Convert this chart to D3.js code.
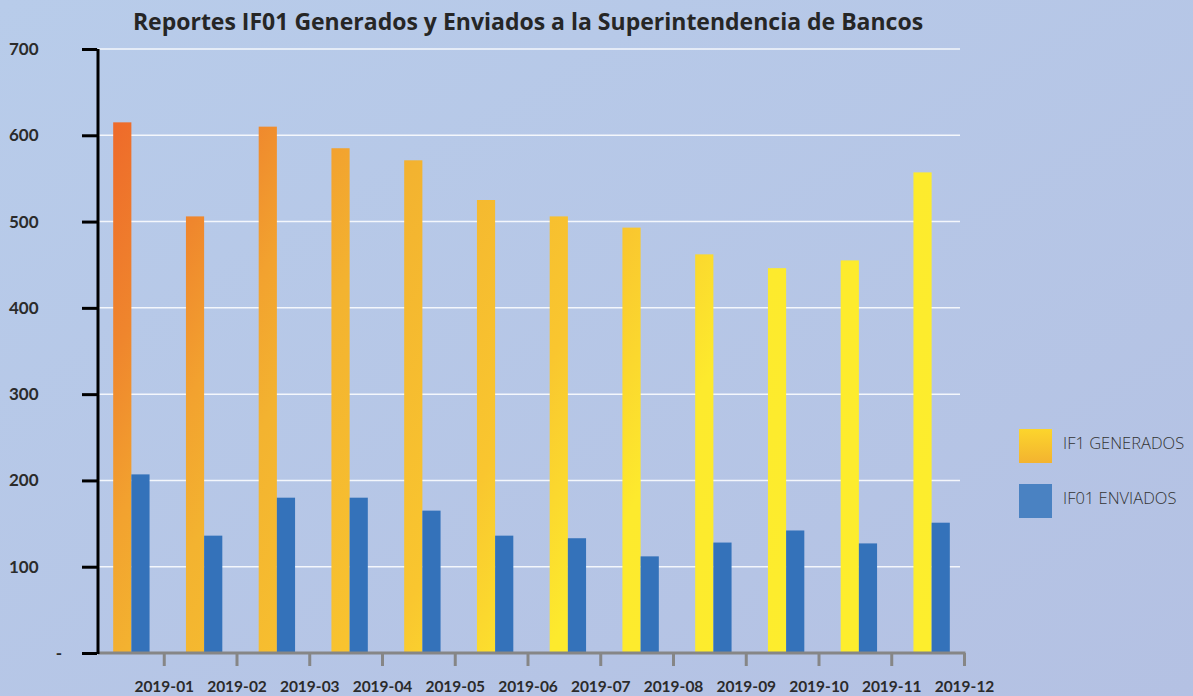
<!DOCTYPE html>
<html>
<head>
<meta charset="utf-8">
<script src="https://cdn.jsdelivr.net/npm/d3@7"></script>
<style>
  body { margin: 0; overflow: hidden; }
  #chart { width: 1193px; height: 696px; }
  .ylab, .xlab { font-family: Lato, "Open Sans", sans-serif; font-weight: 700; fill: #2b2b2b; }
</style>
</head>
<body>
<div id="chart"></div>
<script>
document.addEventListener('DOMContentLoaded', function() {

    const months = ["2019-01", "2019-02", "2019-03", "2019-04", "2019-05", "2019-06",
                    "2019-07", "2019-08", "2019-09", "2019-10", "2019-11", "2019-12"];
    const generados = [615, 506, 610, 585, 571, 525, 506, 493, 462, 446, 455, 557];
    const enviados = [207, 136, 180, 180, 165, 136, 133, 112, 128, 142, 127, 151];
    const seriesNames = ["IF1 GENERADOS", "IF01 ENVIADOS"];
    const yTicks = [0, 100, 200, 300, 400, 500, 600, 700];

    const chartData = months.map((m, i) => ({ month: m, values: [generados[i], enviados[i]] }));

    const W = 1193, H = 696;
    const svg = d3.select("#chart").append("svg")
        .attr("width", W)
        .attr("height", H);

    const defs = svg.append("defs");

    // page background
    const bg = defs.append("linearGradient").attr("id", "bg")
        .attr("x1", "0%").attr("y1", "0%").attr("x2", "100%").attr("y2", "100%");
    bg.append("stop").attr("offset", "0%").attr("stop-color", "#B8CCEA");
    bg.append("stop").attr("offset", "100%").attr("stop-color", "#B4C1E3");
    svg.append("rect").attr("width", W).attr("height", H).attr("fill", "url(#bg)");

    // orange -> yellow fill shared by all bars (page coordinates)
    const gOrange = defs.append("linearGradient").attr("id", "orange")
        .attr("gradientUnits", "userSpaceOnUse")
        .attr("x1", 110).attr("y1", 110).attr("x2", 950).attr("y2", 600);
    [[0, "#EE682A"], [0.13, "#EF862D"], [0.22, "#F2A22F"], [0.3, "#F3B330"],
     [0.52, "#F9C62F"], [0.67, "#FDEA2D"], [1, "#FDEE2D"]]
        .forEach(([o, c]) => gOrange.append("stop").attr("offset", o).attr("stop-color", c));

    const gLegend = defs.append("linearGradient").attr("id", "legendOrange")
        .attr("x1", "0%").attr("y1", "0%").attr("x2", "0%").attr("y2", "100%");
    gLegend.append("stop").attr("offset", "0%").attr("stop-color", "#FCD52C");
    gLegend.append("stop").attr("offset", "100%").attr("stop-color", "#F3B330");

    const colors = ["url(#orange)", "#3472BA"];
    const legendColors = ["url(#legendOrange)", "#4A82C2"];

    const axisX = 98, baseY = 653, topY = 49, rightX = 964;

    const x = d3.scaleBand().domain(months).range([91, rightX]).padding(0);
    const x1 = d3.scaleBand().domain(seriesNames).range([0, x.bandwidth()])
        .paddingInner(0).paddingOuter(1);
    const y = d3.scaleLinear().domain([0, 700]).range([baseY, topY]);

    // grid lines
    svg.append("g")
        .selectAll("line")
        .data(yTicks.filter(d => d > 0))
        .join("line")
        .attr("x1", axisX).attr("x2", 960)
        .attr("y1", d => y(d)).attr("y2", d => y(d))
        .attr("stroke", "#ffffff")
        .attr("stroke-opacity", 0.85)
        .attr("stroke-width", 1.5);

    // bars (absolute x so the shared gradient spans the whole plot)
    const bars = chartData.flatMap(d => d.values.map((v, i) => ({
        month: d.month, key: seriesNames[i], value: v, i: i
    })));
    svg.append("g")
        .selectAll("rect")
        .data(bars)
        .join("rect")
        .attr("x", d => x(d.month) + x1(d.key) + 4)
        .attr("width", x1.bandwidth())
        .attr("y", d => y(d.value))
        .attr("height", d => baseY - y(d.value))
        .attr("fill", d => colors[d.i]);

    // x axis: ticks sit at the right edge of each month band
    const xTick = d3.scalePoint().domain(months).range([x(months[0]) + x.bandwidth(), rightX]);
    const xAxis = svg.append("g")
        .attr("transform", `translate(0,${baseY})`)
        .call(d3.axisBottom(xTick).tickSize(13).tickPadding(15));
    xAxis.select(".domain").remove();
    xAxis.selectAll(".tick line").attr("stroke", "#868686").attr("stroke-width", 3);
    xAxis.selectAll(".tick text").attr("class", "xlab").style("font-size", "15.5px");
    svg.append("line")
        .attr("x1", axisX).attr("x2", rightX + 1.5)
        .attr("y1", baseY).attr("y2", baseY)
        .attr("stroke", "#868686").attr("stroke-width", 3);

    // y axis
    const yAxis = svg.append("g")
        .attr("transform", `translate(${axisX - 1},0)`)
        .call(d3.axisLeft(y).tickValues(yTicks).tickSize(0)
            .tickFormat(d => d === 0 ? "-" : d));
    yAxis.select(".domain").remove();
    yAxis.selectAll(".tick text")
        .attr("class", "ylab")
        .style("font-size", "17px")
        .attr("text-anchor", d => d === 0 ? "middle" : "start")
        .attr("x", d => d === 0 ? 60 - axisX : 10 - axisX);
    yAxis.selectAll(".tick").append("line")
        .attr("x1", -15).attr("x2", 0)
        .attr("stroke", "#000").attr("stroke-width", 3);
    svg.append("line")
        .attr("x1", axisX).attr("x2", axisX)
        .attr("y1", y(700)).attr("y2", baseY + 1)
        .attr("stroke", "#000").attr("stroke-width", 3);

    // title
    svg.append("text")
        .attr("x", 528).attr("y", 30)
        .attr("text-anchor", "middle")
        .style("font-family", "'Open Sans', sans-serif")
        .style("font-weight", 700)
        .style("font-size", "23px")
        .attr("fill", "#262626")
        .text("Reportes IF01 Generados y Enviados a la Superintendencia de Bancos");

    // legend
    const legend = svg.append("g")
        .selectAll("g")
        .data(seriesNames)
        .join("g")
        .attr("transform", (d, i) => `translate(1019,${429 + i * 55})`);
    legend.append("rect")
        .attr("width", 33).attr("height", 34)
        .attr("fill", (d, i) => legendColors[i]);
    legend.append("text")
        .attr("x", 44).attr("y", 20)
        .style("font-family", "'Open Sans', sans-serif")
        .style("font-weight", 300)
        .style("font-size", "16.5px")
        .attr("fill", "#333")
        .text(d => d);
});
</script>
</body>
</html>
